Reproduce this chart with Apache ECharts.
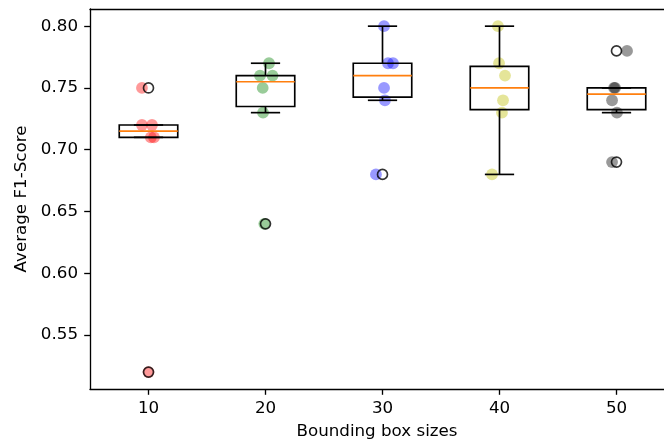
<!DOCTYPE html>
<html>
<head>
<meta charset="utf-8">
<script src="https://cdn.jsdelivr.net/npm/echarts@6/dist/echarts.min.js"></script>
<style>
html,body{margin:0;padding:0;background:#fff;}
#chart{width:664px;height:443px;}
</style>
</head>
<body>
<div id="chart"></div>
<script>
// ---- data ----
const categories = ['10', '20', '30', '40', '50'];
const scores = [
  [0.75, 0.72, 0.72, 0.71, 0.71, 0.52],
  [0.77, 0.76, 0.76, 0.75, 0.73, 0.64],
  [0.80, 0.77, 0.77, 0.75, 0.74, 0.68],
  [0.80, 0.77, 0.76, 0.74, 0.73, 0.68],
  [0.78, 0.75, 0.75, 0.74, 0.73, 0.69]
];
const jitter = [
  [-0.056, -0.056, 0.03, 0.02, 0.047, 0.0],
  [0.03, -0.047, 0.06, -0.024, -0.021, -0.01],
  [0.013, 0.047, 0.09, 0.013, 0.021, -0.056],
  [-0.013, -0.004, 0.047, 0.03, 0.021, -0.064],
  [0.09, -0.021, -0.012, -0.038, 0.004, -0.038]
];
const pointColors = ['#ff0000', '#008000', '#0000ff', '#bfbf00', '#000000'];
const whiskerLow = [0.71, 0.73, 0.74, 0.68, 0.73];
const q1 = [0.71, 0.735, 0.7425, 0.7325, 0.7325];
const medians = [0.715, 0.755, 0.76, 0.75, 0.745];
const q3 = [0.72, 0.76, 0.77, 0.7675, 0.75];
const whiskerHigh = [0.72, 0.77, 0.80, 0.80, 0.75];
const outliers = [[0.75, 0.52], [0.64], [0.68], [], [0.78, 0.69]];
const yTicks = [0.55, 0.60, 0.65, 0.70, 0.75, 0.80];
const xTicks = [1, 2, 3, 4, 5];

// ---- build series ----
const FONT = 'DejaVu Sans';
const LW = 1.67;
const scatterSeries = scores.map((vals, i) => ({
  type: 'scatter',
  z: 1,
  symbolSize: 11.8,
  itemStyle: { color: pointColors[i], opacity: 0.4 },
  data: vals.map((v, j) => [i + 1 + jitter[i][j], v]),
  silent: true
}));

const boxData = categories.map((c, i) => [i + 1, whiskerLow[i], q1[i], medians[i], q3[i], whiskerHigh[i]]);
const boxSeries = {
  type: 'custom',
  z: 2,
  silent: true,
  data: boxData,
  renderItem: function (params, api) {
    const x = api.value(0);
    const pWL = api.coord([x, api.value(1)]);
    const pQ1 = api.coord([x, api.value(2)]);
    const pMed = api.coord([x, api.value(3)]);
    const pQ3 = api.coord([x, api.value(4)]);
    const pWH = api.coord([x, api.value(5)]);
    const half = api.size([0.25, 0])[0];
    const cap = api.size([0.125, 0])[0];
    const cx = pQ1[0];
    const s = { stroke: '#000', lineWidth: LW, fill: null };
    return {
      type: 'group',
      children: [
        { type: 'line', shape: { x1: cx, y1: pQ1[1], x2: cx, y2: pWL[1] }, style: s },
        { type: 'line', shape: { x1: cx, y1: pQ3[1], x2: cx, y2: pWH[1] }, style: s },
        { type: 'line', shape: { x1: cx - cap, y1: pWL[1], x2: cx + cap, y2: pWL[1] }, style: s },
        { type: 'line', shape: { x1: cx - cap, y1: pWH[1], x2: cx + cap, y2: pWH[1] }, style: s },
        { type: 'rect', shape: { x: cx - half, y: pQ3[1], width: 2 * half, height: pQ1[1] - pQ3[1] }, style: { stroke: '#000', lineWidth: LW, fill: null } },
        { type: 'line', shape: { x1: cx - half, y1: pMed[1], x2: cx + half, y2: pMed[1] }, style: { stroke: '#ff7f0e', lineWidth: LW } }
      ]
    };
  }
};

const outlierData = [];
outliers.forEach((arr, i) => arr.forEach(v => outlierData.push([i + 1, v])));
const outlierSeries = {
  type: 'scatter',
  z: 3,
  silent: true,
  symbol: 'circle',
  symbolSize: 10,
  itemStyle: { color: 'rgba(0,0,0,0)', borderColor: '#000', borderWidth: LW },
  data: outlierData
};

const X_MIN = 0.5, X_MAX = 0.5 + 574 / 117;
const chart = echarts.init(document.getElementById('chart'), null, { renderer: 'canvas' });
chart.setOption({
  animation: false,
  backgroundColor: '#fff',
  textStyle: { fontFamily: FONT, color: '#000' },
  grid: { left: 90, top: 9, width: 574, height: 380, containLabel: false, outerBoundsMode: 'none' },
  xAxis: [{
    type: 'value',
    min: X_MIN, max: X_MAX,
    name: 'Bounding box sizes',
    nameLocation: 'middle',
    nameGap: 34,
    nameTextStyle: { fontFamily: FONT, fontSize: 16.7, color: '#000' },
    axisLine: { show: true, lineStyle: { color: '#000', width: 1.33 } },
    splitLine: { show: false },
    axisTick: { show: true, length: 5.8, lineStyle: { color: '#000', width: 1.33 }, customValues: xTicks },
    axisLabel: {
      margin: 11, fontFamily: FONT, fontSize: 16.7, color: '#000',
      customValues: xTicks,
      formatter: v => categories[Math.round(v) - 1]
    }
  }, {
    type: 'value',
    position: 'top',
    min: X_MIN, max: X_MAX,
    axisLine: { show: true, lineStyle: { color: '#000', width: 1.33 } },
    splitLine: { show: false },
    axisTick: { show: false },
    axisLabel: { show: false }
  }],
  yAxis: {
    type: 'value',
    min: 0.5063, max: 0.8139,
    name: 'Average F1-Score',
    nameLocation: 'middle',
    nameGap: 60,
    nameRotate: 90,
    nameTextStyle: { fontFamily: FONT, fontSize: 16.7, color: '#000' },
    axisLine: { show: true, lineStyle: { color: '#000', width: 1.33 } },
    splitLine: { show: false },
    axisTick: { show: true, length: 5.8, lineStyle: { color: '#000', width: 1.33 }, customValues: yTicks },
    axisLabel: {
      margin: 12, fontFamily: FONT, fontSize: 16.7, color: '#000',
      customValues: yTicks,
      formatter: v => v.toFixed(2)
    }
  },
  series: [...scatterSeries, boxSeries, outlierSeries]
});
</script>
</body>
</html>
